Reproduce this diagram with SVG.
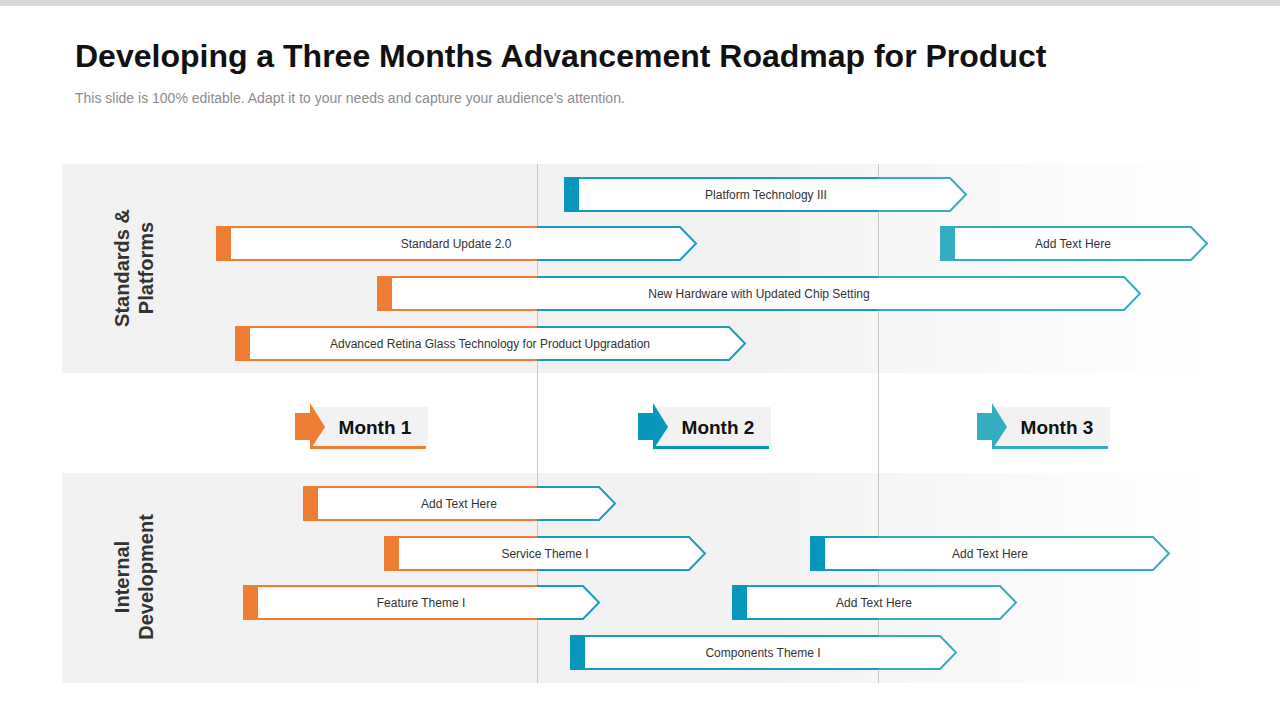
<svg xmlns="http://www.w3.org/2000/svg" width="1280" height="720" viewBox="0 0 1280 720">
<defs>
<linearGradient id="bg" x1="62" x2="1200" y1="0" y2="0" gradientUnits="userSpaceOnUse">
<stop offset="0" stop-color="#f2f2f2"/><stop offset="0.62" stop-color="#f2f2f2"/><stop offset="1" stop-color="#ffffff"/></linearGradient>
<linearGradient id="st" x1="0" x2="1280" y1="0" y2="0" gradientUnits="userSpaceOnUse">
<stop offset="0.4195" stop-color="#ed7d31"/><stop offset="0.4195" stop-color="#1a9abe"/>
<stop offset="0.686" stop-color="#1a9abe"/><stop offset="0.686" stop-color="#33adbf"/></linearGradient>
<style>
.bar{fill:#fff;stroke:url(#st);stroke-width:2}
.o{fill:#ed7d31}.b{fill:#0797bd}.t{fill:#33adbf}
.lbl{font-family:"Liberation Sans",Arial,sans-serif;font-size:12px;fill:#333;text-anchor:middle}
.mon{font-family:"Liberation Sans Narrow","Liberation Sans",Arial,sans-serif;font-weight:bold;font-size:19px;fill:#111;text-anchor:middle}
.side{font-family:"Liberation Sans Narrow","Liberation Sans",Arial,sans-serif;font-weight:bold;font-size:20px;fill:#333;text-anchor:middle}
</style>
</defs>
<rect width="1280" height="720" fill="#fff"/>
<rect x="0" y="0" width="1280" height="6" fill="#d9d9d9"/>
<text x="75" y="67" font-family="Liberation Sans,Arial,sans-serif" font-weight="bold" font-size="32" fill="#111">Developing a Three Months Advancement Roadmap for Product</text>
<text x="75" y="103" font-family="Liberation Sans,Arial,sans-serif" font-size="14" fill="#8c8c8c">This slide is 100% editable. Adapt it to your needs and capture your audience's attention.</text>
<rect x="62" y="164" width="1140" height="209" fill="url(#bg)"/>
<rect x="62" y="473" width="1140" height="210" fill="url(#bg)"/>
<g id="gridlines" stroke="#c8c8c8" stroke-width="1">
<line x1="537.5" y1="164" x2="537.5" y2="683"/><line x1="878.5" y1="164" x2="878.5" y2="683"/></g>
<g id="side-labels">
<text class="side" transform="translate(133,268) rotate(-90)"><tspan x="0" y="-4">Standards &amp;</tspan><tspan x="0" y="20">Platforms</tspan></text>
<text class="side" transform="translate(133,577) rotate(-90)"><tspan x="0" y="-4">Internal</tspan><tspan x="0" y="20">Development</tspan></text>
</g>
<g id="months">
<g id="m1"><rect x="310" y="407" width="118" height="40" fill="#f2f2f2"/><rect x="310" y="446" width="116" height="3" class="o"/><polygon points="295,413 310,413 310,403 325,427 310,450 310,440 295,440" class="o"/><text class="mon" x="375" y="434">Month 1</text></g>
<g id="m2"><rect x="653" y="407" width="118" height="40" fill="#f2f2f2"/><rect x="653" y="446" width="116" height="3" class="b"/><polygon points="638,413 653,413 653,403 668,427 653,450 653,440 638,440" class="b"/><text class="mon" x="718" y="434">Month 2</text></g>
<g id="m3"><rect x="992" y="407" width="118" height="40" fill="#f2f2f2"/><rect x="992" y="446" width="116" height="3" class="t"/><polygon points="977,413 992,413 992,403 1007,427 992,450 992,440 977,440" class="t"/><text class="mon" x="1057" y="434">Month 3</text></g>
</g>
<g id="bars">
<g id="b1"><polygon class="bar" points="565,178 950,178 966,194.5 950,211 565,211"/><rect class="b" x="564" y="177" width="15" height="35"/><text class="lbl" x="766" y="199">Platform Technology III</text></g>
<g id="b2"><polygon class="bar" points="217,227 680,227 696,243.5 680,260 217,260"/><rect class="o" x="216" y="226" width="15" height="35"/><text class="lbl" x="456" y="248">Standard Update 2.0</text></g>
<g id="b3"><polygon class="bar" points="941,227 1191,227 1207,243.5 1191,260 941,260"/><rect class="t" x="940" y="226" width="15" height="35"/><text class="lbl" x="1073" y="248">Add Text Here</text></g>
<g id="b4"><polygon class="bar" points="378,277 1124,277 1140,293.5 1124,310 378,310"/><rect class="o" x="377" y="276" width="15" height="35"/><text class="lbl" x="759" y="298">New Hardware with Updated Chip Setting</text></g>
<g id="b5"><polygon class="bar" points="236,327 729,327 745,343.5 729,360 236,360"/><rect class="o" x="235" y="326" width="15" height="35"/><text class="lbl" x="490" y="348">Advanced Retina Glass Technology for Product Upgradation</text></g>
<g id="b6"><polygon class="bar" points="304,487 599,487 615,503.5 599,520 304,520"/><rect class="o" x="303" y="486" width="15" height="35"/><text class="lbl" x="459" y="508">Add Text Here</text></g>
<g id="b7"><polygon class="bar" points="385,537 689,537 705,553.5 689,570 385,570"/><rect class="o" x="384" y="536" width="15" height="35"/><text class="lbl" x="545" y="558">Service Theme I</text></g>
<g id="b8"><polygon class="bar" points="811,537 1153,537 1169,553.5 1153,570 811,570"/><rect class="b" x="810" y="536" width="15" height="35"/><text class="lbl" x="990" y="558">Add Text Here</text></g>
<g id="b9"><polygon class="bar" points="244,586 583,586 599,602.5 583,619 244,619"/><rect class="o" x="243" y="585" width="15" height="35"/><text class="lbl" x="421" y="607">Feature Theme I</text></g>
<g id="b10"><polygon class="bar" points="733,586 1000,586 1016,602.5 1000,619 733,619"/><rect class="b" x="732" y="585" width="15" height="35"/><text class="lbl" x="874" y="607">Add Text Here</text></g>
<g id="b11"><polygon class="bar" points="571,636 940,636 956,652.5 940,669 571,669"/><rect class="b" x="570" y="635" width="15" height="35"/><text class="lbl" x="763" y="657">Components Theme I</text></g>
</g>
</svg>
